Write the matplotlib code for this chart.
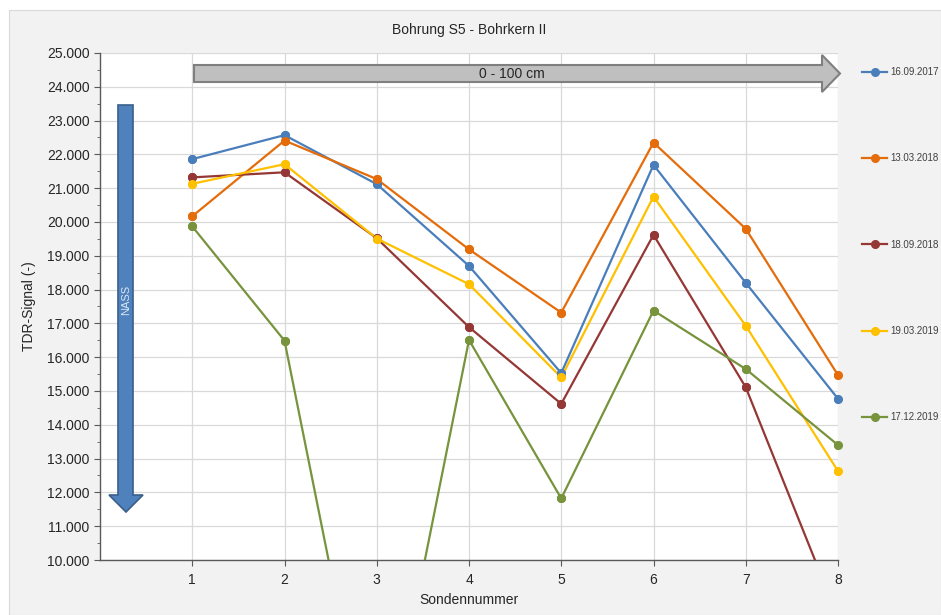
import numpy as np
import matplotlib.pyplot as plt
from matplotlib.patches import Polygon, Rectangle
from matplotlib.ticker import FuncFormatter, MultipleLocator

# --- Daten ---
sonden = [1, 2, 3, 4, 5, 6, 7, 8]
labels = ["16.09.2017", "13.03.2018", "18.09.2018", "19.03.2019", "17.12.2019"]
s_2017_09 = [21860, 22570, 21120, 18700, 15530, 21690, 18200, 14770]
s_2018_03 = [20170, 22410, 21270, 19190, 17320, 22350, 19800, 15470]
s_2018_09 = [21320, 21470, 19520, 16890, 14620, 19620, 15110, 8300]
s_2019_03 = [21130, 21710, 19510, 18160, 15400, 20750, 16930, 12630]
s_2019_12 = [19870, 16490, 2900, 16510, 11820, 17380, 15650, 13400]
series = [s_2017_09, s_2018_03, s_2018_09, s_2019_03, s_2019_12]
colors = ["#4a7ebb", "#e46c0a", "#953735", "#ffc000", "#77933c"]

plt.rcParams['font.family'] = ['Liberation Sans', 'DejaVu Sans']

W, H = 941, 615
fig = plt.figure(figsize=(W / 100, H / 100), dpi=100)
fig.patch.set_facecolor("white")

def px(x, y):
    # Pixel (von oben links) -> Figurkoordinaten
    return (x / W, 1 - y / H)

# Hintergrund-Panel
fig.patches.append(Rectangle(px(9, 615), (W - 9) / W, (615 - 10) / H,
                             transform=fig.transFigure, facecolor="#f2f2f2",
                             edgecolor="#d9d9d9", lw=0.8, zorder=-10))

ax = fig.add_axes([100 / W, 1 - 560 / H, (838 - 100) / W, (560 - 53) / H])
ax.set_facecolor("white")
ax.set_xlim(0, 8)
ax.set_ylim(10000, 25000)

for vals, lab, col in zip(series, labels, colors):
    ax.plot(sonden, vals, color=col, lw=1.6, marker="o", ms=5.5, label=lab,
            zorder=3)
    # Marker am Rand nicht abschneiden (nur Punkte im sichtbaren Bereich)
    sichtbar = np.ma.masked_less(np.array(vals, dtype=float), 10000)
    ax.plot(sonden, sichtbar, ls="none", marker="o", ms=5.5, color=col,
            clip_on=False, zorder=4)

ax.set_xticks(sonden)
ax.yaxis.set_major_locator(MultipleLocator(1000))
ax.yaxis.set_minor_locator(MultipleLocator(500))
ax.yaxis.set_major_formatter(FuncFormatter(lambda v, p: f"{v:,.0f}".replace(",", ".")))
ax.grid(True, color="#d9d9d9", lw=0.9, zorder=0)
ax.set_axisbelow(True)
for sp in ["top", "right"]:
    ax.spines[sp].set_visible(False)
for sp in ["left", "bottom"]:
    ax.spines[sp].set_color("#595959")
    ax.spines[sp].set_linewidth(1.0)
ax.tick_params(axis="both", which="major", length=4, color="#595959", labelsize=10,
               labelcolor="#262626")
ax.tick_params(axis="y", which="minor", length=2.5, color="#595959")
ax.tick_params(axis="x", pad=5)

ax.set_title("Bohrung S5 - Bohrkern II", fontsize=10, color="#262626", pad=14)
ax.set_xlabel("Sondennummer", fontsize=10, color="#262626", labelpad=5)
ax.set_ylabel("TDR-Signal (-)", fontsize=10, color="#262626", labelpad=8)

# Legende rechts
leg = ax.legend(loc="upper left", bbox_to_anchor=(862 / W, 1 - 67 / H),
                bbox_transform=fig.transFigure, frameon=False, fontsize=7,
                labelspacing=7.85, handlelength=2.6, handletextpad=0.3,
                borderaxespad=0, borderpad=0)
for t in leg.get_texts():
    t.set_color("#404040")

# Grauer Pfeil "0 - 100 cm"
harrow = [(194, 65), (822, 65), (822, 55), (840, 73.5), (822, 92), (822, 82), (194, 82)]
fig.patches.append(Polygon([px(x, y) for x, y in harrow], closed=True,
                           transform=fig.transFigure, facecolor="#bfbfbf",
                           edgecolor="#7f7f7f", lw=1.5, zorder=5))
fig.text(*px(512, 74), "0 - 100 cm", ha="center", va="center", fontsize=10,
         color="#262626", zorder=6)

# Blauer Pfeil "NASS"
varrow = [(118, 105), (133, 105), (133, 495), (143, 495), (126, 512), (109, 495), (118, 495)]
fig.patches.append(Polygon([px(x, y) for x, y in varrow], closed=True,
                           transform=fig.transFigure, facecolor="#4f81bd",
                           edgecolor="#3a5f8b", lw=1.2, zorder=5))
fig.text(*px(126, 300), "NASS", ha="center", va="center", rotation=90,
         fontsize=8, color="#dce6f2", zorder=6)

fig.savefig("out.png", dpi=100)
